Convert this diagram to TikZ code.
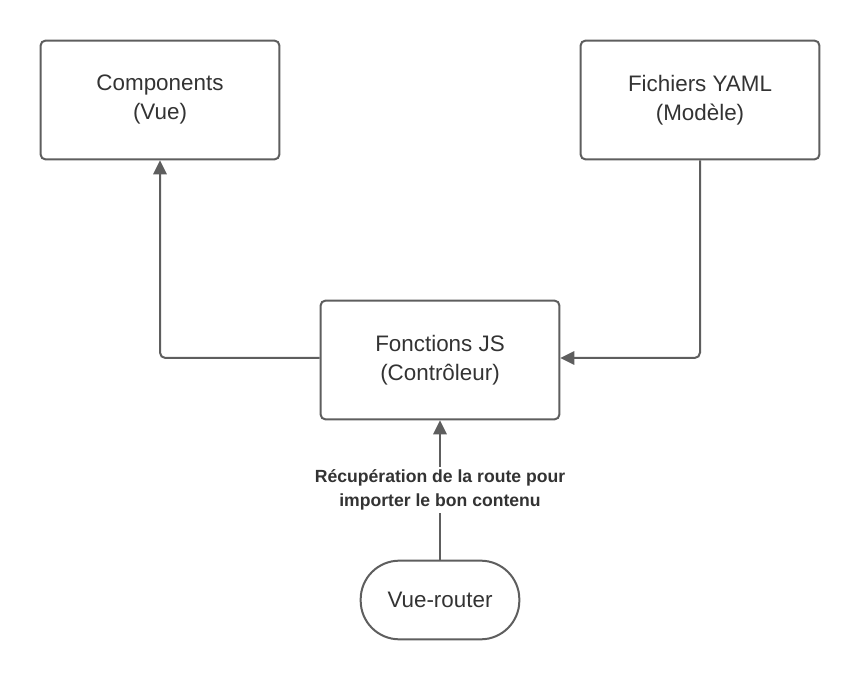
\documentclass[tikz,border=0pt]{standalone}
\usepackage{fontspec}
\setmainfont{Liberation Sans}
\usetikzlibrary{arrows.meta}
\definecolor{ln}{HTML}{5E5E5E}
\definecolor{tx}{HTML}{333333}
\tikzset{
  box/.style={draw=ln, line width=1.5pt, rounded corners=3.5pt, fill=white,
    minimum width=179pt, minimum height=89pt, align=center, text=tx,
    font=\fontsize{16.8}{21.75}\selectfont, inner sep=0pt},
  pill/.style={draw=ln, line width=1.5pt, rounded corners=29pt, fill=white,
    minimum width=119pt, minimum height=59pt, align=center, text=tx,
    font=\fontsize{16.8}{21.75}\selectfont, inner sep=0pt},
  conn/.style={draw=ln, line width=1.5pt, rounded corners=4pt,
    -{Triangle[length=10.5pt,width=10pt]}},
  lbl/.style={fill=white, text=tx, align=center, font=\bfseries\fontsize{13.2}{18}\selectfont, inner sep=2pt}
}
\begin{document}
\begin{tikzpicture}[x=0.75pt,y=-0.75pt]
\useasboundingbox (0,0) rectangle (860,680);
\node[box] (comp) at (160,100) {Components\\(Vue)};
\node[box] (yaml) at (700,100) {Fichiers YAML\\(Modèle)};
\node[box] (ctrl) at (440,360) {Fonctions JS\\(Contrôleur)};
\node[pill] (router) at (440,600) {Vue-router};
\coordinate (c1) at (160,358);
\coordinate (c2) at (700,358);
\draw[conn] (ctrl.west |- c1) -- (c1) -- (comp.south);
\draw[conn] (yaml.south) -- (c2) -- (ctrl.east |- c2);
\draw[conn] (router.north) -- node[lbl, pos=0.5] {Récupération de la route pour\\importer le bon contenu} (ctrl.south);
\end{tikzpicture}
\end{document}
